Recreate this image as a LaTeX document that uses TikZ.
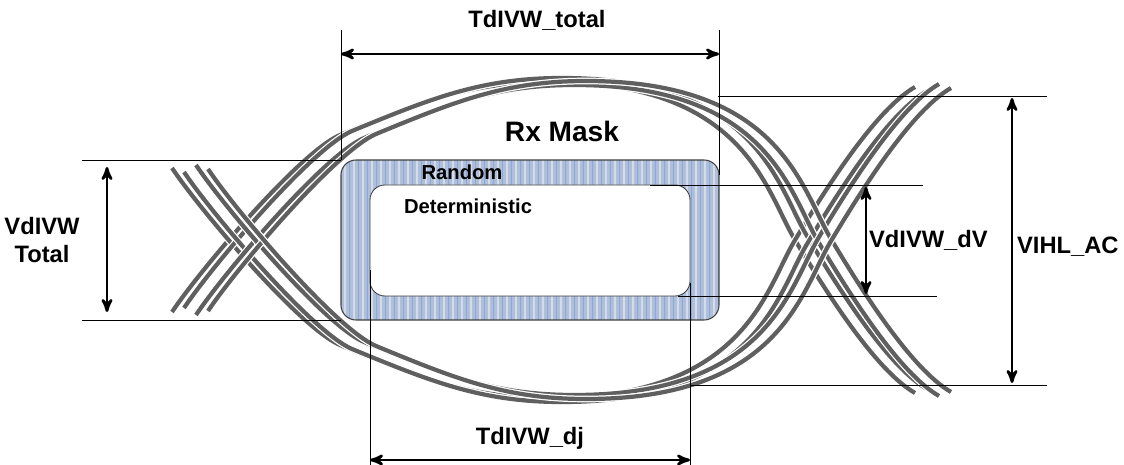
\documentclass[tikz,border=0pt]{standalone}
\usepackage{fontspec}
\setmainfont{Liberation Sans}
\usetikzlibrary{arrows}

\definecolor{tracegray}{RGB}{95,95,95}
\definecolor{maskblue}{RGB}{175,191,217}
\definecolor{stripeblue}{RGB}{140,166,214}
\definecolor{stripelight}{RGB}{212,220,233}

\begin{document}
\begin{tikzpicture}[x=0.02cm,y=-0.02cm,
  trace/.style={tracegray,line width=2.4pt,preaction={draw=white,line width=3.8pt}},
  guide/.style={black,line width=0.5pt},
  dimarrow/.style={stealth'-stealth',line width=1.5pt},
  lbl/.style={font=\fontsize{13.5}{15.5}\selectfont\bfseries,inner sep=1pt},
  small/.style={font=\fontsize{11.5}{13}\selectfont\bfseries,inner sep=1pt}]
  \useasboundingbox (0,0) rectangle (1124,465);

  % eye traces
  \foreach \dx/\dy in {0/0,12/-4,24/3,36/-1}{
    \draw[trace,shift={(\dx,\dy)}] (172,312) .. controls (200,270) and (300,152) .. (340,135)
      .. controls (420,102) and (470,82) .. (550,82)
      .. controls (745,82) and (765,190) .. (795,240)
      .. controls (825,290) and (875,370) .. (915,393);
    \draw[trace,shift={(\dx,-\dy)}] (172,168) .. controls (200,210) and (300,328) .. (340,345)
      .. controls (420,378) and (470,398) .. (550,398)
      .. controls (745,398) and (765,290) .. (795,240)
      .. controls (825,190) and (875,110) .. (915,87);
  }

  % mask (random + deterministic)
  \begin{scope}
    \clip[rounded corners=8.5pt] (341,160) rectangle (719,320);
    \fill[maskblue] (341,160) rectangle (719,320);
    \foreach \x in {345,354,...,720}{
      \draw[stripelight,line width=0.6pt] (\x,160) -- (\x,320);
      \draw[stripeblue,line width=0.35pt] (\x+4.5,160) -- (\x+4.5,320);
    }
  \end{scope}
  \draw[black!75,line width=0.6pt,rounded corners=8.5pt] (341,160) rectangle (719,320);
  \draw[black!75,line width=0.5pt,fill=white,rounded corners=8.5pt] (370,185) rectangle (690,296);

  \node[small] (rnd) at (462,172) {Random};
  \node[small] (det) at (468,206) {Deterministic};
  \node[font=\fontsize{16}{18}\selectfont\bfseries] (rx) at (562,131) {Rx Mask};

  % TdIVW_total
  \coordinate (ta) at (341,30); \coordinate (tb) at (341,160);
  \coordinate (tc) at (719,30); \coordinate (td) at (719,175);
  \draw[guide] (ta) -- (tb);
  \draw[guide] (tc) -- (td);
  \coordinate (tl) at (341,54); \coordinate (tr) at (719,54);
  \draw[dimarrow] (tl) -- (tr);
  \node[lbl] (ttot) at (537,20) {TdIVW\_total};

  % TdIVW_dj
  \coordinate (ja) at (370,270); \coordinate (jb) at (370,465);
  \coordinate (jc) at (690,283); \coordinate (jd) at (690,465);
  \draw[guide] (ja) -- (jb);
  \draw[guide] (jc) -- (jd);
  \coordinate (jl) at (370,460); \coordinate (jr) at (690,460);
  \draw[dimarrow] (jl) -- (jr);
  \node[lbl] (tdj) at (530,438) {TdIVW\_dj};

  % VdIVW Total
  \coordinate (va) at (82,160); \coordinate (vb) at (82,320);
  \coordinate (vc) at (341,320);
  \draw[guide] (va) -- (tb);
  \draw[guide] (vb) -- (vc);
  \coordinate (vt) at (107,167); \coordinate (vu) at (107,312);
  \draw[dimarrow] (vt) -- (vu);
  \node[lbl,align=center] (vtot) at (42,240) {VdIVW\\Total};

  % VdIVW_dV
  \coordinate (da) at (650,185); \coordinate (db) at (923,185);
  \coordinate (dc) at (678,296); \coordinate (dd) at (937,296);
  \draw[guide] (da) -- (db);
  \draw[guide] (dc) -- (dd);
  \coordinate (dt) at (866,187); \coordinate (du) at (866,294);
  \draw[dimarrow] (dt) -- (du);
  \node[lbl,anchor=west] (vdv) at (867,240) {VdIVW\_dV};

  % VIHL_AC
  \coordinate (ha) at (718,96); \coordinate (hb) at (1047,96);
  \coordinate (hc) at (690,385); \coordinate (hd) at (1047,385);
  \draw[guide] (ha) -- (hb);
  \draw[guide] (hc) -- (hd);
  \coordinate (ht) at (1012,98); \coordinate (hu) at (1012,383);
  \draw[dimarrow] (ht) -- (hu);
  \node[lbl,anchor=west] (vihl) at (1015,247) {VIHL\_AC};
\end{tikzpicture}
\end{document}
